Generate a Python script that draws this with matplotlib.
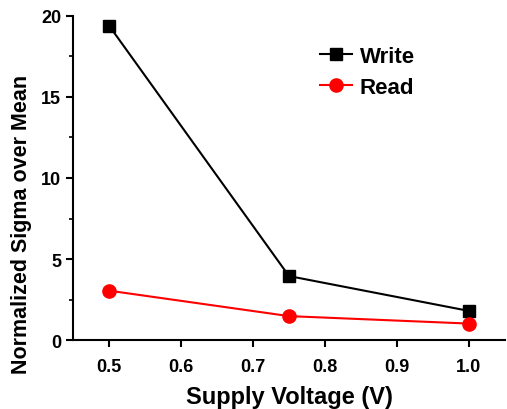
import matplotlib
matplotlib.use("Agg")
import matplotlib.pyplot as plt
from matplotlib.ticker import MultipleLocator

voltage = [0.5, 0.75, 1.0]
write_vals = [19.4, 3.95, 1.8]
read_vals = [3.05, 1.48, 1.02]

plt.rcParams["font.family"] = ["Liberation Sans", "DejaVu Sans"]
plt.rcParams["font.weight"] = "bold"

fig = plt.figure(figsize=(5.07, 4.10), dpi=100)
ax = fig.add_axes([0.144, 0.168, 0.852, 0.791])

ax.plot(voltage, write_vals, color="black", marker="s", markersize=8.5, lw=1.5, label="Write")
ax.plot(voltage, read_vals, color="red", marker="o", markersize=9.5, lw=1.5, label="Read")

ax.set_xlim(0.45, 1.05)
ax.set_ylim(0, 20)
ax.xaxis.set_major_locator(MultipleLocator(0.1))
ax.yaxis.set_major_locator(MultipleLocator(5))
ax.yaxis.set_minor_locator(MultipleLocator(2.5))

for side in ["top", "right"]:
    ax.spines[side].set_visible(False)
for side in ["left", "bottom"]:
    ax.spines[side].set_linewidth(1.5)
ax.tick_params(which="major", direction="out", length=5, width=1.5, labelsize=13)
ax.tick_params(which="minor", direction="out", length=3, width=1.2)
ax.tick_params(axis="x", which="major", pad=8)
ax.tick_params(axis="y", which="major", pad=3.5)

ax.set_xlabel("Supply Voltage (V)", fontsize=17, fontweight="bold", labelpad=7)
ax.set_ylabel("Normalized Sigma over Mean", fontsize=15.5, fontweight="bold")
ax.yaxis.set_label_coords(-0.095, 0.36)

ax.legend(loc="upper left", bbox_to_anchor=(0.525, 0.97), frameon=False,
          prop={"size": 16, "weight": "bold"}, handlelength=1.45, handletextpad=0.35,
          labelspacing=0.45)

fig.savefig("out.png", dpi=100)
